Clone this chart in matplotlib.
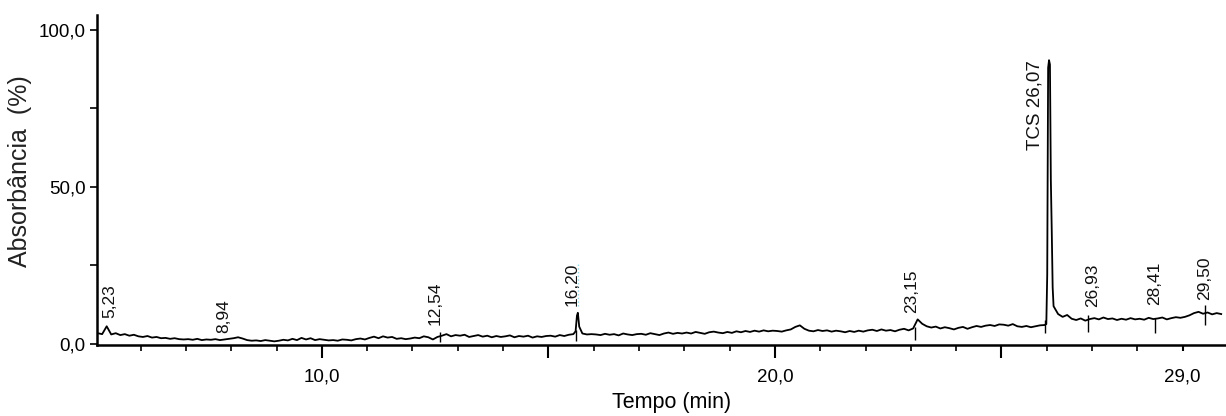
import numpy as np
import matplotlib
matplotlib.use("Agg")
import matplotlib.pyplot as plt
from matplotlib.ticker import MultipleLocator

plt.rcParams['font.family'] = ['Liberation Sans', 'DejaVu Sans']

# chromatogram baseline, read every 0.1 min starting at 5.05 min
absorb = [
    3.4, 3.1, 5.6, 3.0, 3.4, 2.8, 3.1, 2.6, 2.9, 2.4,   # 5
    2.2, 2.5, 2.0, 2.2, 1.8, 1.9, 1.6, 1.8, 1.5, 1.4,   # 6
    1.5, 1.3, 1.6, 1.2, 1.4, 1.3, 1.5, 1.2, 1.4, 1.6,   # 7
    1.8, 2.1, 1.7, 1.2, 1.0, 1.1, 0.9, 1.2, 1.0, 0.8,   # 8
    1.0, 1.3, 1.1, 1.6, 1.2, 1.9, 1.4, 1.8, 1.2, 1.5,   # 9
    1.3, 1.1, 1.2, 1.0, 1.4, 1.3, 1.1, 1.5, 1.7, 1.4,   # 10
    1.9, 2.3, 1.8, 2.4, 2.0, 2.2, 1.6, 1.8, 1.5, 1.7,   # 11
    2.0, 1.8, 2.4, 2.1, 1.4, 2.2, 2.6, 3.1, 2.4, 2.8,   # 12
    2.6, 2.9, 2.2, 2.5, 2.8, 2.3, 2.6, 2.1, 2.5, 2.2,   # 13
    2.4, 2.7, 2.1, 2.5, 2.3, 2.6, 2.0, 2.4, 2.2, 2.5,   # 14
    2.6, 2.3, 2.8, 2.5, 2.9, 3.1, 9.9, 3.3, 3.0, 3.1,   # 15
    3.0, 2.8, 3.2, 2.9, 3.1, 2.7, 3.3, 3.0, 2.8, 3.1,   # 16
    3.2, 2.9, 3.4, 3.1, 2.8, 3.3, 3.6, 3.2, 3.5, 3.3,   # 17
    3.6, 3.3, 3.8, 3.5, 3.2, 3.7, 3.9, 3.6, 3.4, 3.8,   # 18
    3.5, 4.0, 3.7, 4.1, 3.8, 4.2, 3.9, 4.3, 4.0, 4.2,   # 19
    4.1, 3.9, 4.3, 4.6, 5.4, 5.9, 4.8, 4.2, 4.0, 4.4,   # 20
    4.1, 4.3, 3.9, 4.2, 4.0, 3.7, 4.1, 3.8, 4.2, 3.9,   # 21
    4.3, 4.5, 4.1, 4.6, 4.2, 4.4, 4.0, 4.5, 4.8, 4.3,   # 22
    4.9, 7.8, 6.4, 5.6, 5.2, 5.5, 4.9, 5.3, 5.0, 4.6,   # 23
    5.1, 5.4, 4.8, 5.3, 5.7, 5.4, 5.8, 6.0, 5.7, 6.2,   # 24
    6.1, 5.8, 6.3, 5.6, 5.4, 5.7, 5.3, 5.6, 5.9, 6.0,   # 25
    90.4, 12.0, 9.5, 8.6, 9.2, 8.0, 7.6, 8.1, 7.4, 7.9, # 26
    8.2, 7.8, 8.4, 7.9, 8.1, 7.6, 8.0, 7.7, 8.2, 7.8,   # 27
    8.0, 7.7, 8.3, 7.9, 8.1, 8.4, 7.8, 8.2, 8.5, 8.3,   # 28
    8.6, 9.1, 9.8, 10.2, 9.6, 10.0, 9.4, 9.8, 9.5,      # 29
]
time = 5.05 + 0.1 * np.arange(len(absorb))

# extra samples on the flanks of the two sharp peaks
peak_t = [15.60, 15.63, 15.68, 25.99, 26.01, 26.02, 26.03, 26.07, 26.09, 26.11, 26.13]
peak_v = [4.0, 9.0, 5.5, 6.3, 22.0, 55.0, 88.0, 89.0, 52.0, 36.0, 18.0]

t_all = np.concatenate([time, peak_t])
v_all = np.concatenate([absorb, peak_v])
order = np.argsort(t_all)
t_all, v_all = t_all[order], v_all[order]

# peak labels (retention times) and where they sit on the chart
peak_labels = ['5,23', '8,94', '12,54', '16,20', '23,15', 'TCS 26,07', '26,93', '28,41', '29,50']
label_t = [5.32, 7.84, 12.49, 15.52, 23.02, 25.74, 27.02, 28.39, 29.49]
label_v = [8.3, 3.5, 6.0, 12.1, 9.9, 61.8, 11.8, 12.4, 14.0]

# integration baseline markers
mark_t = [12.60, 15.60, 23.09, 25.96, 26.91, 28.39, 29.49]
mark_lo = [0.6, 0.8, 1.3, 3.5, 3.8, 3.5, 6.0]
mark_hi = [3.8, 4.5, 5.4, 7.6, 9.2, 8.3, 12.4]

fig = plt.figure(figsize=(12.26, 4.16), dpi=100)
ax = fig.add_axes([0.079, 0.171, 0.921, 0.793])

ax.plot(t_all, v_all, color='black', lw=1.3)
ax.vlines(mark_t, mark_lo, mark_hi, color='black', lw=1.0)

for lab, x, y in zip(peak_labels, label_t, label_v):
    size = 13.5 if lab.startswith('TCS') else 12.5
    ax.text(x, y, lab, rotation=90, ha='center', va='bottom', fontsize=size, color='#111111')
# faint dotted artefact next to the 16,20 label
ax.vlines([15.65], [12.1], [25.5], color='#8fdcec', lw=1, linestyles=':')

ax.set_xlim(5.033, 29.956)
ax.set_ylim(-0.32, 104.8)

ax.set_xticks([10, 15, 20, 25, 29])
ax.set_xticklabels(['10,0', '', '20,0', '', '29,0'])
ax.xaxis.set_minor_locator(MultipleLocator(1))
ax.set_yticks([0, 50, 100])
ax.set_yticklabels(['0,0', '50,0', '100,0'])
ax.yaxis.set_minor_locator(MultipleLocator(25))

ax.tick_params(axis='x', which='major', length=9, width=1.5, pad=8, labelsize=13.5)
ax.tick_params(axis='x', which='minor', length=4, width=1.2)
ax.tick_params(axis='y', which='both', length=5, width=1.2, pad=3, labelsize=13.5)
ax.xaxis.get_major_ticks()[-1].tick1line.set_markersize(4)

for side in ['top', 'right']:
    ax.spines[side].set_visible(False)
for side in ['left', 'bottom']:
    ax.spines[side].set_linewidth(1.8)

ax.set_xlabel('Tempo (min)', fontsize=15.5)
ax.xaxis.set_label_coords(0.509, -0.142)
ax.set_ylabel('Absorbância  (%)', fontsize=18, color='#222222')
ax.yaxis.set_label_coords(-0.057, 0.527)

fig.savefig('out.png', dpi=100)
